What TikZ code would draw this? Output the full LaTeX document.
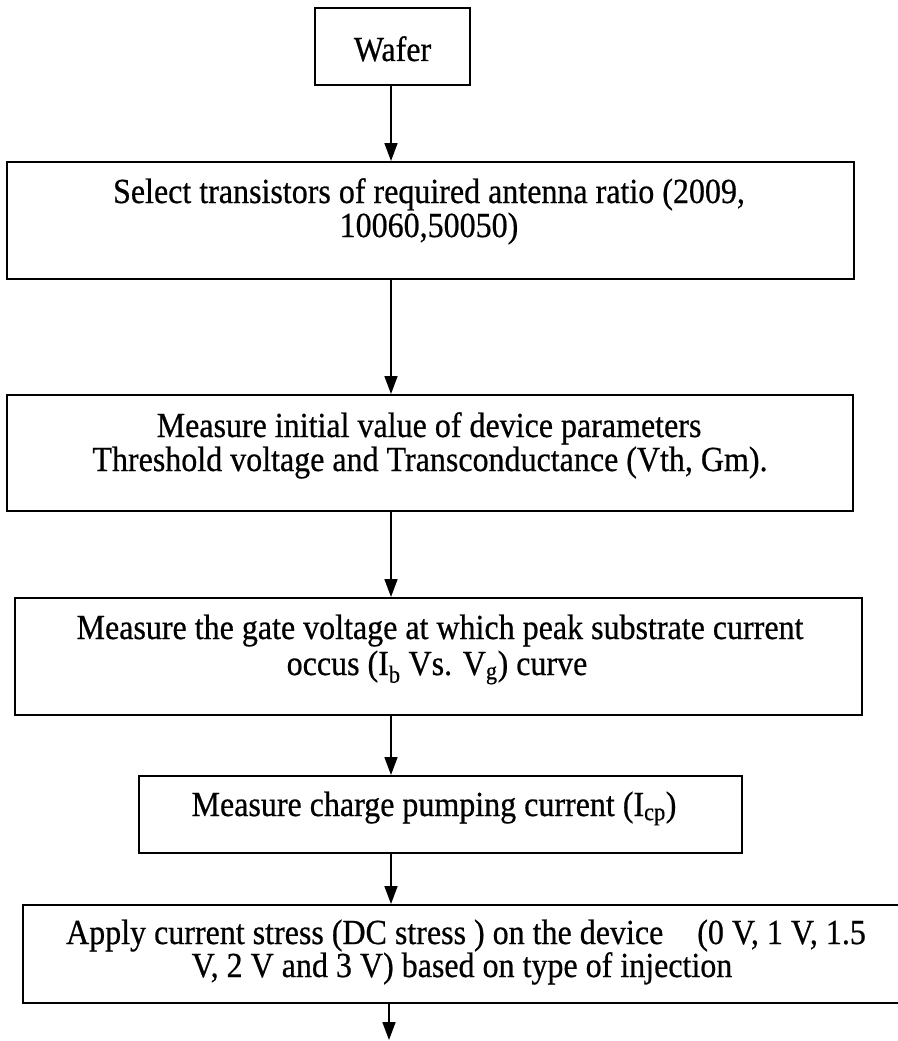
\documentclass[tikz,border=0pt]{standalone}
\usepackage{fontspec}
\setmainfont{Liberation Serif}
\newfontfamily\printfont[FakeBold=0.6]{Liberation Serif}
\usetikzlibrary{arrows.meta}

\tikzset{
  stepbox/.style={draw=black, line width=2pt, rectangle, inner sep=0pt, fill=none},
  label/.style={anchor=base, inner sep=0pt, yscale=1.1, font=\printfont\fontsize{32}{33}\selectfont},
  flow/.style={draw=black, line width=1.7pt, -{Triangle[length=18pt, width=13pt]}},
}

\begin{document}
\begin{tikzpicture}[x=1pt, y=-1pt]
  \useasboundingbox (0,0) rectangle (897,1041);

  % process boxes
  \node[stepbox, minimum width=155pt, minimum height=77pt]  (b1) at (392.5, 46.5) {};
  \node[stepbox, minimum width=847pt, minimum height=117pt] (b2) at (430.5, 220.5) {};
  \node[stepbox, minimum width=846pt, minimum height=116pt] (b3) at (430, 453) {};
  \node[stepbox, minimum width=847pt, minimum height=117pt] (b4) at (438.5, 656.5) {};
  \node[stepbox, minimum width=603pt, minimum height=77pt]  (b5) at (440.5, 814.5) {};
  \node[stepbox, minimum width=879pt, minimum height=98pt]  (b6) at (462.5, 954) {};

  % box texts
  \node[label] (t1)  at (392.5, 61) {Wafer};
  \node[label] (t2a) at (429, 203) {Select transistors of required antenna ratio (2009,};
  \node[label] (t2b) at (429, 237) {10060,50050)};
  \node[label] (t3a) at (429, 437) {Measure initial value of device parameters};
  \node[label] (t3b) at (430, 471) {Threshold voltage and Transconductance (Vth, Gm).};
  \node[label] (t4a) at (440, 639) {Measure the gate voltage at which peak substrate current};
  \node[label] (t4b) at (437, 675) {occus (I\textsubscript{b} Vs. V\textsubscript{g}) curve};
  \node[label] (t5)  at (434, 816) {Measure charge pumping current (I\textsubscript{cp})};
  \node[label] (t6a) at (466, 944) {Apply current stress (DC stress ) on the device\hspace{26pt} (0 V, 1 V, 1.5};
  \node[label] (t6b) at (462, 977) {V, 2 V and 3 V) based on type of injection};

  % connectors
  \coordinate (ax) at (391, 0);
  \coordinate (tail) at (389, 1040);
  \draw[flow] (b1.south -| ax) -- (b2.north -| ax);
  \draw[flow] (b2.south -| ax) -- (b3.north -| ax);
  \draw[flow] (b3.south -| ax) -- (b4.north -| ax);
  \draw[flow] (b4.south -| ax) -- (b5.north -| ax);
  \draw[flow] (b5.south -| ax) -- (b6.north -| ax);
  \draw[flow] (b6.south -| tail) -- (tail);
\end{tikzpicture}
\end{document}
